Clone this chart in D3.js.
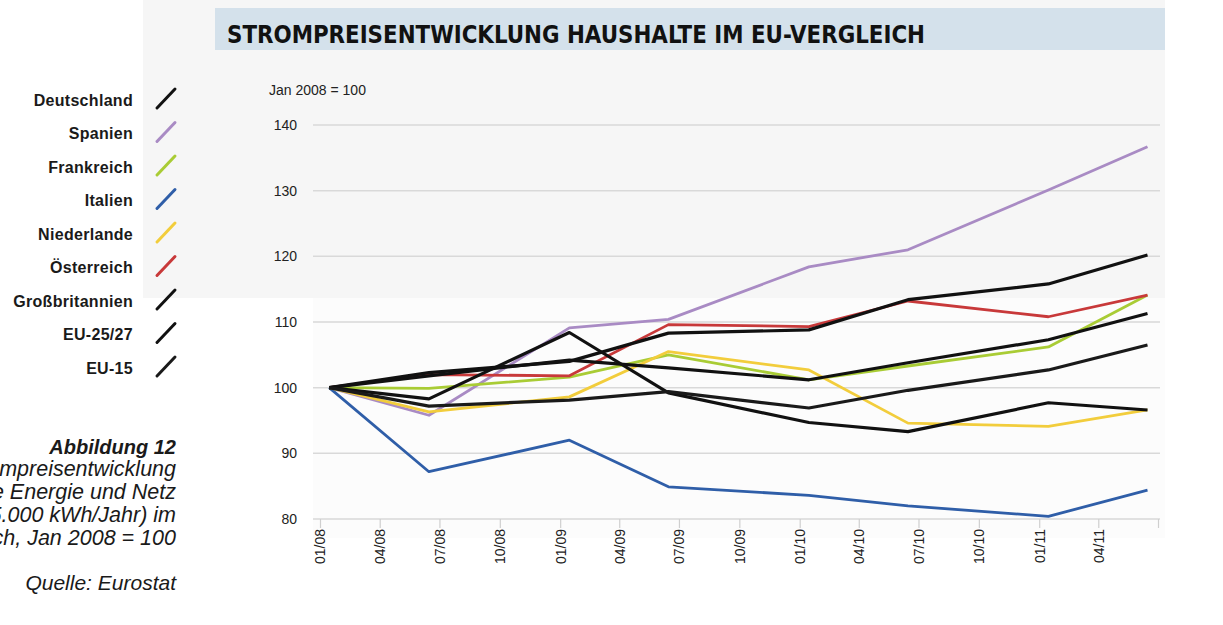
<!DOCTYPE html>
<html>
<head>
<meta charset="utf-8">
<script src="https://cdn.jsdelivr.net/npm/d3@7"></script>
<style>
  body { margin: 0; background: #fff; }
  svg { display: block; }
  text { font-family: "Liberation Sans", Arial, sans-serif; }
</style>
</head>
<body>
<svg id="chart" width="1223" height="625"></svg>
<script>
// half-year observations, plotted mid-month
const dates = ['2008-01-15', '2008-06-15', '2009-01-15', '2009-06-15', '2010-01-15', '2010-06-15', '2011-01-15', '2011-06-15'];

const deutschland = [100, 102.3, 104.0, 108.3, 108.8, 113.4, 115.8, 120.2];
const spanien = [100, 95.8, 109.1, 110.4, 118.4, 121.0, 130.1, 136.7];
const frankreich = [100, 99.9, 101.6, 105.0, 101.2, 103.3, 106.2, 114.1];
const italien = [100, 87.2, 92.0, 84.9, 83.6, 82.0, 80.4, 84.4];
const niederlande = [100, 96.3, 98.6, 105.5, 102.7, 94.6, 94.1, 96.6];
const oesterreich = [100, 102.0, 101.8, 109.6, 109.3, 113.2, 110.8, 114.1];
const grossbritannien = [100, 98.3, 108.4, 99.2, 94.7, 93.3, 97.7, 96.6];
const eu2527 = [100, 101.8, 104.2, 103.0, 101.2, 103.8, 107.3, 111.3];
const eu15 = [100, 97.2, 98.1, 99.4, 96.9, 99.6, 102.7, 106.5];

const seriesNames = ['Deutschland', 'Spanien', 'Frankreich', 'Italien', 'Niederlande', 'Österreich', 'Großbritannien', 'EU-25/27', 'EU-15'];
const seriesValues = [deutschland, spanien, frankreich, italien, niederlande, oesterreich, grossbritannien, eu2527, eu15];
const seriesColors = ['#111', '#a98bc4', '#a9cc35', '#2f5ea8', '#f2cd3c', '#c8393a', '#111', '#111', '#1a1a1a'];

const yTicks = [80, 90, 100, 110, 120, 130, 140];

const captionLines = ['Strompreisentwicklung', '(reine Energie und Netz', '2.500 bis 5.000 kWh/Jahr) im', 'EU-Vergleich, Jan 2008 = 100'];

const parse = d3.timeParse('%Y-%m-%d');
const svg = d3.select('#chart');

// background panels
svg.append('rect').attr('x', 143).attr('y', 0).attr('width', 1022).attr('height', 298).attr('fill', '#f6f6f6');
svg.append('rect').attr('x', 313).attr('y', 298).attr('width', 852).attr('height', 240).attr('fill', '#fcfcfc');
svg.append('rect').attr('x', 215).attr('y', 8).attr('width', 950).attr('height', 42).attr('fill', '#d4e1eb');

svg.append('text')
  .attr('x', 227).attr('y', 43)
  .attr('textLength', 698).attr('lengthAdjust', 'spacingAndGlyphs')
  .style('font-family', '"DejaVu Sans Condensed", "DejaVu Sans", sans-serif')
  .style('font-weight', 'bold').style('font-size', '24px').attr('fill', '#111')
  .text('STROMPREISENTWICKLUNG HAUSHALTE IM EU-VERGLEICH');

svg.append('text')
  .attr('x', 269).attr('y', 95)
  .style('font-size', '14px').attr('fill', '#222')
  .text('Jan 2008 = 100');

const x = d3.scaleTime()
  .domain([parse('2008-01-01'), parse('2011-07-01')])
  .range([320, 1158]);

const y = d3.scaleLinear().domain([80, 140]).range([519, 125]);

// gridlines
svg.append('g')
  .selectAll('line')
  .data(yTicks)
  .enter()
  .append('line')
  .attr('x1', 313).attr('x2', 1160)
  .attr('y1', d => y(d)).attr('y2', d => y(d))
  .attr('stroke', '#d9d9d9').attr('stroke-width', 1.5);

// y labels
svg.append('g')
  .selectAll('text')
  .data(yTicks)
  .enter()
  .append('text')
  .attr('x', 297).attr('y', d => y(d) + 5)
  .attr('text-anchor', 'end')
  .style('font-size', '14px').attr('fill', '#222')
  .text(d => d);

// x axis
const xAxis = svg.append('g')
  .attr('transform', `translate(0,${y(80)})`)
  .call(d3.axisBottom(x)
    .ticks(d3.timeMonth.every(3))
    .tickFormat(d3.timeFormat('%m/%y'))
    .tickSize(9)
    .tickPadding(10));
xAxis.select('.domain').remove();
xAxis.selectAll('.tick line').attr('stroke', '#cfcfcf').attr('stroke-width', 1.2);
xAxis.selectAll('.tick')
  .filter(d => d > parse('2011-05-01'))
  .select('text').remove();
xAxis.selectAll('text')
  .attr('transform', 'rotate(-90)')
  .attr('x', -10).attr('y', 0).attr('dy', '0.35em')
  .style('text-anchor', 'end')
  .style('font-family', '"Liberation Sans", Arial, sans-serif')
  .style('font-size', '14px').attr('fill', '#222');

const line = d3.line()
  .x((d, i) => x(parse(dates[i])))
  .y(d => y(d));

// coloured series first, black ones on top
const order = [1, 2, 3, 4, 5, 0, 6, 7, 8];
svg.append('g')
  .selectAll('path')
  .data(order)
  .enter()
  .append('path')
  .attr('d', i => line(seriesValues[i]))
  .attr('fill', 'none')
  .attr('stroke', i => seriesColors[i])
  .attr('stroke-width', i => seriesColors[i] === '#111' || i === 8 ? 3.2 : 2.8)
  .attr('stroke-linejoin', 'round');

// legend
const legend = svg.append('g')
  .selectAll('g')
  .data(seriesNames)
  .enter()
  .append('g')
  .attr('transform', (d, i) => `translate(0,${100 + i * 33.5})`);

legend.append('text')
  .attr('x', 133).attr('y', 5.5)
  .attr('text-anchor', 'end')
  .style('font-size', '16px').style('font-weight', 'bold').style('letter-spacing', '0.3px')
  .attr('fill', '#1a1a1a')
  .text(d => d);

legend.append('line')
  .attr('x1', 157).attr('y1', 8).attr('x2', 175).attr('y2', -11)
  .attr('stroke', (d, i) => seriesColors[i])
  .attr('stroke-width', 3)
  .attr('stroke-linecap', 'round');

// caption (overflows the left page edge like the scan)
svg.append('text')
  .attr('x', 176).attr('y', 454)
  .attr('text-anchor', 'end')
  .style('font-size', '20px').style('font-style', 'italic').style('font-weight', 'bold')
  .attr('fill', '#1a1a1a')
  .text('Abbildung 12');

svg.append('g')
  .selectAll('text')
  .data(captionLines)
  .enter()
  .append('text')
  .attr('x', 176).attr('y', (d, i) => 476 + i * 23)
  .attr('text-anchor', 'end')
  .style('font-size', '21.5px').style('font-style', 'italic')
  .attr('fill', '#1a1a1a')
  .text(d => d);

svg.append('text')
  .attr('x', 176).attr('y', 590)
  .attr('text-anchor', 'end')
  .style('font-size', '21px').style('font-style', 'italic')
  .attr('fill', '#1a1a1a')
  .text('Quelle: Eurostat');
</script>
</body>
</html>
